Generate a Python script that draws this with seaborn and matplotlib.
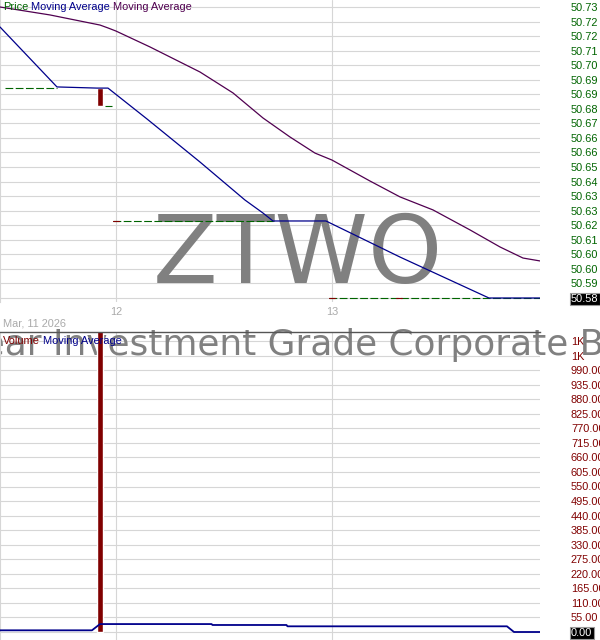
import matplotlib
matplotlib.use("Agg")
import matplotlib.pyplot as plt
import numpy as np
import pandas as pd
import seaborn as sns

# ---------------- data (x = hours since 2026-03-11 00:00) ----------------
ma_fast_x = [11.11, 17.44, 21.89, 23.11, 27.44, 33.33, 38.33, 40.33, 41.44, 47.33, 55.56, 65.44, 71.11]
ma_fast_y = [50.7197, 50.6888, 50.6882, 50.6882, 50.6723, 50.6501, 50.6305, 50.6238, 50.6197,
             50.6197, 50.6011, 50.5800, 50.5800]

ma_slow_x = [11.11, 16.67, 22.22, 23.11, 24.0, 27.78, 33.33, 37.0, 40.33, 43.33, 46.11, 48.0,
             52.22, 55.56, 59.22, 63.33, 66.67, 69.22, 71.11]
ma_slow_y = [50.7300, 50.7259, 50.7207, 50.7192, 50.7176, 50.7094, 50.6965, 50.6857, 50.6728,
             50.6630, 50.6547, 50.6511, 50.6403, 50.6321, 50.6254, 50.6151, 50.6063, 50.6006, 50.5991]

candle_x = [22.22]
candle_open = [50.6882]
candle_close = [50.6790]
volume = [1200]

vol_ma_x = [11.11, 21.33, 22.22, 34.62, 34.72, 42.95, 43.05, 67.44, 68.22, 71.11]
vol_ma_y = [6.4, 6.4, 30.0, 30.0, 26.5, 26.5, 21.5, 21.5, 0.0, 0.0]

flat_start = [11.67, 22.78, 23.67, 47.67]
flat_end = [17.44, 23.56, 41.44, 71.11]
flat_price = [50.6882, 50.6790, 50.6197, 50.5800]

mark_x = [23.67, 47.67, 55.11]
mark_price = [50.6197, 50.5800, 50.5800]

price_labels = ["50.58", "50.59", "50.60", "50.60", "50.61", "50.62", "50.63", "50.63", "50.64",
                "50.65", "50.66", "50.66", "50.67", "50.68", "50.69", "50.69", "50.70", "50.71",
                "50.72", "50.72", "50.73"]
volume_labels = ["0.00", "55.00", "110.00", "165.00", "220.00", "275.00", "330.00", "385.00",
                 "440.00", "495.00", "550.00", "605.00", "660.00", "715.00", "770.00", "825.00",
                 "880.00", "935.00", "990.00", "1K", "1K"]
day_ticks = [24, 48]
day_labels = ["12", "13"]

# ---------------- styling ----------------
sns.set_theme(style="white")
plt.rcParams["font.family"] = ["Liberation Sans", "DejaVu Sans"]

GREEN = "#006400"
RED = "#800000"
BLUE = "#00008B"
PURPLE = "#500050"
GRID = "#d6d6d6"
LAB = 7.9

fig = plt.figure(figsize=(6, 6.4), dpi=100)
W, H = 600.0, 640.0
ax_p = fig.add_axes([0, 1 - 302 / H, 540 / W, 302 / H])
ax_v = fig.add_axes([0, 0, 540 / W, 308 / H])

XL = (11.111, 71.111)

# ---------------- price panel ----------------
price_ticks = np.linspace(50.58, 50.73, 21)
step_px = 14.55
ax_p.set_xlim(*XL)
ax_p.set_ylim(50.58 - 4 / step_px * 0.0075, 50.73 + 7 / step_px * 0.0075)
ax_p.set_axisbelow(True)
ax_p.grid(True, color=GRID, lw=0.8)

ax_p.text(297.5 / W, 1 - 283 / H, "ZTWO", transform=fig.transFigure, ha="center", va="baseline",
          fontsize=68, color="#808080", family="DejaVu Sans", zorder=1)

sns.lineplot(x=ma_slow_x, y=ma_slow_y, ax=ax_p, color=PURPLE, lw=0.9, estimator=None, sort=False, zorder=3)
sns.lineplot(x=ma_fast_x, y=ma_fast_y, ax=ax_p, color=BLUE, lw=0.9, estimator=None, sort=False, zorder=4)

body_bottom = [min(o, c) for o, c in zip(candle_open, candle_close)]
body_h = [abs(o - c) for o, c in zip(candle_open, candle_close)]
ax_p.bar(candle_x, body_h, bottom=body_bottom, width=0.67, color=RED, zorder=2.5)

for s, e, p in zip(flat_start, flat_end, flat_price):
    ax_p.plot([s, e], [p, p], color=GREEN, lw=0.8, linestyle=(0, (7, 2.2)), zorder=3.5)
for mx, mp in zip(mark_x, mark_price):
    ax_p.plot([mx, mx + 0.67], [mp, mp], color=RED, lw=0.8, zorder=3.6)

ax_p.yaxis.tick_right()
ax_p.set_yticks(price_ticks, labels=price_labels)
ax_p.tick_params(axis="y", length=0, pad=22.3, labelsize=LAB, labelcolor=GREEN)
ax_p.set_xticks(day_ticks, labels=day_labels)
ax_p.tick_params(axis="x", length=0, pad=3.5, labelsize=LAB, labelcolor="#aaaaaa")
lab0 = ax_p.get_yticklabels()[0]
lab0.set_color("white")
lab0.set_bbox(dict(facecolor="black", edgecolor="#999999", pad=1.0, lw=0.8))
for sp in ["top", "right", "bottom"]:
    ax_p.spines[sp].set_visible(False)
ax_p.spines["left"].set_color(GRID)
ax_p.spines["left"].set_linewidth(0.8)
ax_p.set_xlabel("")
ax_p.set_ylabel("")

t = ax_p.text(3 / W, 1 - 6.5 / H, "Price", transform=fig.transFigure, ha="left", va="center",
              fontsize=LAB, color=GREEN, zorder=10)
for s, c in [(" Moving Average", BLUE), (" Moving Average", PURPLE)]:
    t = ax_p.annotate(s, xy=(1, 0), xycoords=t, ha="left", va="bottom", fontsize=LAB, color=c,
                      annotation_clip=False, zorder=10)

fig.text(3 / W, 1 - 323 / H, "Mar, 11 2026", ha="left", va="center", fontsize=LAB, color="#aaaaaa")

# ---------------- volume panel ----------------
vpp = 1100 / 291.0
ax_v.set_xlim(*XL)
ax_v.set_ylim(-8 * vpp, 1100 + 9 * vpp)
ax_v.set_axisbelow(True)
ax_v.grid(True, color=GRID, lw=0.8)

ax_v.text(302 / W, 1 - 355 / H, "F/m 2-Year Investment Grade Corporate Bond ETF",
          transform=fig.transFigure, ha="center", va="baseline", fontsize=25.8,
          color="#808080", family="DejaVu Sans", zorder=1, clip_on=False)

ax_v.bar(candle_x, volume, width=0.67, color=RED, zorder=2.5)
sns.lineplot(x=vol_ma_x, y=vol_ma_y, ax=ax_v, color=BLUE, lw=1.3, estimator=None, sort=False, zorder=4)

ax_v.yaxis.tick_right()
ax_v.set_yticks(np.linspace(0, 1100, 21), labels=volume_labels)
ax_v.tick_params(axis="y", length=0, pad=22.3, labelsize=LAB, labelcolor=RED)
ax_v.set_xticks(day_ticks, labels=["", ""])
ax_v.tick_params(axis="x", length=0)
v0 = ax_v.get_yticklabels()[0]
v0.set_color("white")
v0.set_bbox(dict(facecolor="black", edgecolor="#999999", pad=1.0, lw=0.8))
for sp in ["right", "bottom"]:
    ax_v.spines[sp].set_visible(False)
ax_v.spines["top"].set_color("#555555")
ax_v.spines["top"].set_linewidth(1.0)
ax_v.spines["left"].set_color(GRID)
ax_v.spines["left"].set_linewidth(0.8)
ax_v.set_xlabel("")
ax_v.set_ylabel("")

t = ax_v.text(3 / W, 1 - 341 / H, "Volume", transform=fig.transFigure, ha="left", va="center",
              fontsize=LAB, color=RED, zorder=10)
ax_v.annotate(" Moving Average", xy=(1, 0), xycoords=t, ha="left", va="bottom", fontsize=LAB,
              color=BLUE, annotation_clip=False, zorder=10)

fig.savefig("out.png", dpi=100)
